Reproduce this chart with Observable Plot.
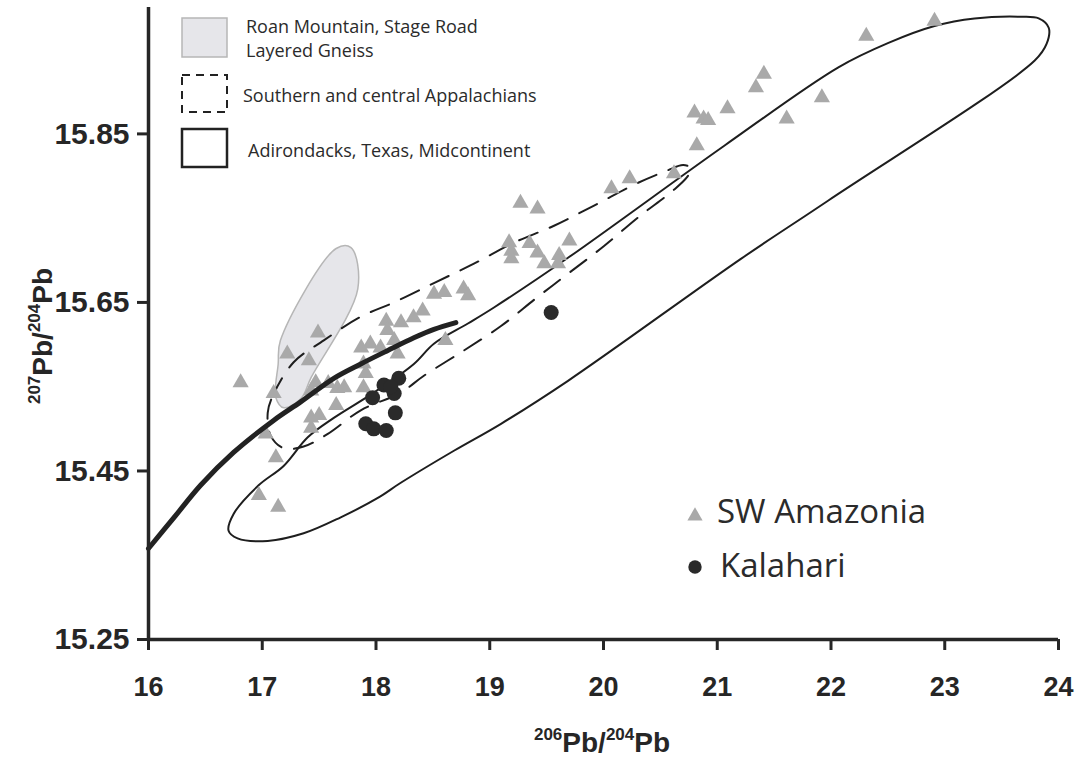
<!DOCTYPE html>
<html>
<head>
<meta charset="utf-8">
<script src="https://cdn.jsdelivr.net/npm/d3@7"></script>
<script src="https://cdn.jsdelivr.net/npm/@observablehq/plot@0.6"></script>
<style>
  html, body { margin: 0; padding: 0; background: #fff; }
  #chart { width: 1080px; height: 759px; }
</style>
</head>
<body>
<div id="chart"></div>
<script>
// Axis ticks
const xTicks = [16, 17, 18, 19, 20, 21, 22, 23, 24];
const yTicks = [15.25, 15.45, 15.65, 15.85];

// SW Amazonia samples (206Pb/204Pb, 207Pb/204Pb)
const amazonia206 = [16.81,17.10,17.22,17.41,17.49,17.47,17.43,17.58,17.66,17.72,
  17.65,17.43,17.50,17.43,17.03,17.87,17.95,18.04,17.89,17.91,
  17.89,18.09,18.10,18.16,18.19,18.22,18.33,18.41,18.51,18.60,
  18.77,18.81,18.61,17.12,16.97,17.14,19.27,19.42,20.07,20.23,
  20.62,19.17,19.19,19.19,19.35,19.42,19.48,19.61,19.60,19.70,
  22.91,22.31,21.41,21.34,21.92,21.61,20.80,20.88,20.92,21.09,20.82];
const amazonia207 = [15.555,15.542,15.589,15.581,15.614,15.555,15.545,15.554,15.548,15.549,
  15.528,15.513,15.516,15.501,15.494,15.596,15.601,15.596,15.577,15.566,
  15.549,15.628,15.617,15.605,15.589,15.626,15.632,15.640,15.660,15.662,
  15.666,15.658,15.605,15.466,15.421,15.407,15.768,15.761,15.785,15.797,
  15.803,15.721,15.711,15.702,15.720,15.709,15.696,15.706,15.696,15.723,
  15.984,15.966,15.921,15.905,15.893,15.868,15.875,15.868,15.866,15.880,15.836];

// Kalahari samples
const kalahari206 = [17.97,18.07,18.20,18.16,18.13,18.17,17.91,17.98,18.09,19.54];
const kalahari207 = [15.537,15.552,15.560,15.542,15.550,15.519,15.506,15.500,15.498,15.638];

// Roan Mountain, Stage Road Layered Gneiss field
const roan206 = [17.65,17.78,17.84,17.43,17.34,17.19,17.12,17.14,17.16];
const roan207 = [15.714,15.715,15.666,15.561,15.536,15.525,15.537,15.577,15.605];

// Southern and central Appalachians field
const appal206 = [17.048,17.092,17.276,17.541,17.866,18.157,18.509,18.861,19.213,19.565,
  19.917,20.305,20.551,20.701,20.771,20.736,20.613,20.305,20.005,19.697,
  19.407,19.099,18.773,18.421,18.218,17.866,17.576,17.364,17.188,17.074];
const appal207 = [15.519,15.539,15.579,15.605,15.633,15.650,15.673,15.696,15.721,15.741,
  15.765,15.792,15.806,15.813,15.809,15.799,15.783,15.751,15.717,15.685,
  15.655,15.622,15.593,15.563,15.543,15.522,15.494,15.479,15.477,15.492];

// Adirondacks, Texas, Midcontinent field
const adk206 = [23.826,23.676,23.262,22.910,22.505,22.065,21.062,19.688,19.037,18.808,
  18.509,18.333,17.981,17.629,17.400,17.188,16.968,16.748,16.704,16.783,
  17.048,17.364,17.690,18.016,18.218,18.685,19.099,19.688,21.211,21.977,
  23.791,23.896,23.914];
const adk207 = [15.987,15.989,15.987,15.978,15.958,15.929,15.836,15.703,15.644,15.625,
  15.601,15.577,15.543,15.513,15.490,15.456,15.433,15.399,15.379,15.370,
  15.367,15.376,15.395,15.418,15.436,15.474,15.506,15.557,15.702,15.771,
  15.937,15.957,15.976];

// Pb growth curve
const curve206 = [16.0,16.238,16.458,16.748,17.100,17.338,17.629,17.866,18.104,18.333,18.509,18.702];
const curve207 = [15.358,15.397,15.433,15.472,15.510,15.532,15.560,15.577,15.593,15.608,15.618,15.626];

const pts = (xs, ys) => xs.map((x, i) => ({x, y: ys[i]}));

const ink = "#262626";
const axisFont = "'Liberation Sans', Arial, sans-serif";
const labelFont = "'Open Sans', 'Noto Sans', sans-serif";

const svgNode = Plot.plot({
  width: 1080,
  height: 759,
  marginLeft: 148,
  marginRight: 22,
  marginTop: 7,
  marginBottom: 120,
  x: {domain: [16, 24]},
  y: {domain: [15.25, 16.0]},
  style: {fontFamily: axisFont, color: ink, background: "#fff", overflow: "visible"},
  marks: [
    Plot.line(pts(roan206, roan207), {x: "x", y: "y", curve: "catmull-rom-closed",
      fill: "#e6e6ea", stroke: "#b6b6b6", strokeWidth: 1.5}),
    Plot.line(pts(adk206, adk207), {x: "x", y: "y", curve: "catmull-rom-closed",
      stroke: "#1e1e1e", strokeWidth: 2}),
    Plot.line(pts(appal206, appal207), {x: "x", y: "y", curve: "catmull-rom-closed",
      stroke: "#1e1e1e", strokeWidth: 2, strokeDasharray: "20,13"}),
    Plot.dot(pts(amazonia206, amazonia207), {x: "x", y: "y", symbol: "triangle", r: 6,
      fill: "#a9a9a9", stroke: "none"}),
    Plot.line(pts(curve206, curve207), {x: "x", y: "y", curve: "catmull-rom",
      stroke: "#222", strokeWidth: 5, strokeLinecap: "round"}),
    Plot.dot(pts(kalahari206, kalahari207), {x: "x", y: "y", r: 7.5, fill: "#2a2a2a", stroke: "none"}),
    Plot.ruleX([16], {stroke: ink, strokeWidth: 3.5}),
    Plot.ruleY([15.25], {stroke: ink, strokeWidth: 3.5}),
    Plot.axisX({ticks: xTicks, tickSize: 11, tickPadding: 26, strokeWidth: 3, stroke: ink,
      fontSize: 27, fontWeight: "bold", label: null, tickFormat: d => String(d)}),
    Plot.axisY({ticks: yTicks, tickSize: 11, tickPadding: 8, strokeWidth: 3, stroke: ink,
      fontSize: 30, fontWeight: "bold", label: null, tickFormat: d => d.toFixed(2)})
  ]
});

document.getElementById("chart").appendChild(svgNode);
const svg = d3.select(svgNode);

// Axis titles with isotope superscripts
function isotopeTitle(g, a, b) {
  const t = g.append("text").attr("text-anchor", "middle")
    .attr("font-family", axisFont).attr("fill", ink).attr("font-weight", "bold");
  t.append("tspan").attr("font-size", 17).attr("dy", -12).text(a);
  t.append("tspan").attr("font-size", 28).attr("dy", 12).text("Pb/");
  t.append("tspan").attr("font-size", 17).attr("dy", -12).text(b);
  t.append("tspan").attr("font-size", 28).attr("dy", 12).text("Pb");
  return t;
}
isotopeTitle(svg.append("g").attr("transform", "translate(602,752)"), "206", "204");
isotopeTitle(svg.append("g").attr("transform", "translate(52,336) rotate(-90)"), "207", "204");

// Field legend (top left)
const lg = svg.append("g").attr("font-family", labelFont).attr("font-size", 18)
  .attr("fill", "#2b2b2b").attr("text-anchor", "start");
lg.append("rect").attr("x", 182).attr("y", 18).attr("width", 45).attr("height", 39)
  .attr("fill", "#e6e6ea").attr("stroke", "#b6b6b6").attr("stroke-width", 1.5);
lg.append("text").attr("x", 246).attr("y", 33).text("Roan Mountain, Stage Road");
lg.append("text").attr("x", 246).attr("y", 57).text("Layered Gneiss");
lg.append("rect").attr("x", 182).attr("y", 75).attr("width", 45).attr("height", 37)
  .attr("fill", "none").attr("stroke", "#222").attr("stroke-width", 2).attr("stroke-dasharray", "8,6");
lg.append("text").attr("x", 243).attr("y", 102).text("Southern and central Appalachians");
lg.append("rect").attr("x", 182).attr("y", 129).attr("width", 45).attr("height", 38)
  .attr("fill", "none").attr("stroke", "#222").attr("stroke-width", 2.5);
lg.append("text").attr("x", 248).attr("y", 157).text("Adirondacks, Texas, Midcontinent");

// Sample legend (lower right)
const sg = svg.append("g").attr("font-family", labelFont).attr("font-size", 33)
  .attr("fill", "#2b2b2b").attr("text-anchor", "start");
sg.append("path").attr("transform", "translate(695,516)")
  .attr("d", d3.symbol(d3.symbolTriangle, 100)()).attr("fill", "#a9a9a9");
sg.append("text").attr("x", 717).attr("y", 523).text("SW Amazonia");
sg.append("circle").attr("cx", 695).attr("cy", 567).attr("r", 6.7).attr("fill", "#2a2a2a");
sg.append("text").attr("x", 720).attr("y", 577).text("Kalahari");
</script>
</body>
</html>
